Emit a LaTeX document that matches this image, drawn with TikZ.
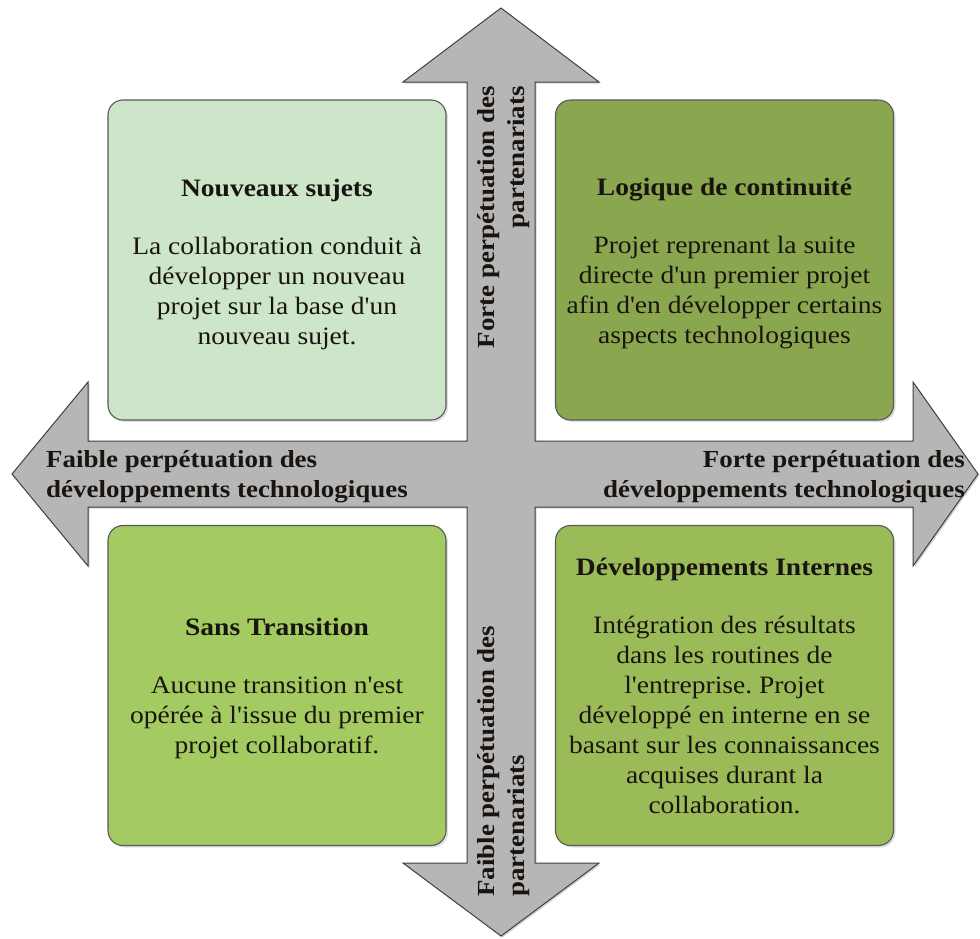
\documentclass[tikz,border=0pt]{standalone}
\usepackage{fontspec}
\newfontfamily\camb{Liberation Serif}[FakeStretch=1.1]
\usetikzlibrary{shadows}
\frenchspacing
\definecolor{tlc}{RGB}{205,229,200}
\definecolor{trc}{RGB}{138,166,78}
\definecolor{blc}{RGB}{164,203,98}
\definecolor{brc}{RGB}{155,187,89}
\definecolor{arrowgray}{RGB}{182,182,182}
\definecolor{txt}{RGB}{25,20,15}
\tikzset{
  quadbox/.style={draw=black!65, line width=1.1pt, rounded corners=15pt,
    minimum width=338pt, minimum height=320pt, inner sep=0pt, align=center,
    text=txt, font=\camb\fontsize{25}{30}\selectfont,
    drop shadow={opacity=0.25, shadow xshift=2pt, shadow yshift=-2pt}},
  quadtext/.style={inner sep=0pt, align=center, text=txt,
    font=\camb\frenchspacing\fontsize{25}{30}\selectfont},
  axislabel/.style={inner sep=0pt, text=txt, font=\camb\fontsize{24.5}{30}\selectfont\bfseries},
  crossarrow/.style={fill=arrowgray, draw=black!75, line width=1pt,
    drop shadow={opacity=0.35, shadow xshift=1.5pt, shadow yshift=-1.5pt}}
}
\begin{document}
\begin{tikzpicture}[x=1pt,y=-1pt]
\useasboundingbox (0,0) rectangle (980,938);
\fill[white] (0,0) rectangle (980,938);
% cross of arrows
\draw[crossarrow] (501,8) -- (599,82) -- (535,82) -- (535,441) -- (913,441) -- (913,382)
  -- (978,474) -- (913,566) -- (913,507) -- (535,507) -- (535,863) -- (599,863)
  -- (501,936) -- (403,863) -- (467,863) -- (467,507) -- (88,507) -- (88,566)
  -- (12,474) -- (88,382) -- (88,441) -- (467,441) -- (467,82) -- (403,82) -- cycle;
% quadrant boxes
\node[quadbox, fill=tlc] (tl) at (277,260) {};
\node[quadbox, fill=trc] (tr) at (724.5,260) {};
\node[quadbox, fill=blc] (bl) at (277,685.5) {};
\node[quadbox, fill=brc] (br) at (724.5,685.5) {};
\node[quadtext] (tlt) at ([yshift=-4pt]tl.center) {\textbf{Nouveaux sujets}\\[28pt]
  La collaboration conduit à\\ développer un nouveau\\ projet sur la base d'un\\ nouveau sujet.};
\node[quadtext] (trt) at ([yshift=-4pt]tr.center) {\textbf{Logique de continuité}\\[28pt]
  Projet reprenant la suite\\ directe d'un premier projet\\ afin d'en développer certains\\ aspects technologiques};
\node[quadtext] (blt) at ([yshift=-3pt]bl.center) {\textbf{Sans Transition}\\[28pt]
  Aucune transition n'est\\ opérée à l'issue du premier\\ projet collaboratif.};
\node[quadtext] (brt) at (br.center) {\textbf{Développements Internes}\\[28pt]
  Intégration des résultats\\ dans les routines de\\ l'entreprise. Projet\\ développé en interne en se\\ basant sur les connaissances\\ acquises durant la\\ collaboration.};
% axis labels
\node[axislabel, align=left, anchor=west] (left) at (46,476.5)
  {Faible perpétuation des\\ développements technologiques};
\node[axislabel, align=right, anchor=east] (right) at (965,476.5)
  {Forte perpétuation des\\ développements technologiques};
\node[axislabel, align=right, anchor=east, rotate=90] (top) at (504,86)
  {Forte perpétuation des\\ partenariats};
\node[axislabel, align=left, anchor=west, rotate=90] (bottom) at (504,897)
  {Faible perpétuation des\\ partenariats};
\end{tikzpicture}
\end{document}
